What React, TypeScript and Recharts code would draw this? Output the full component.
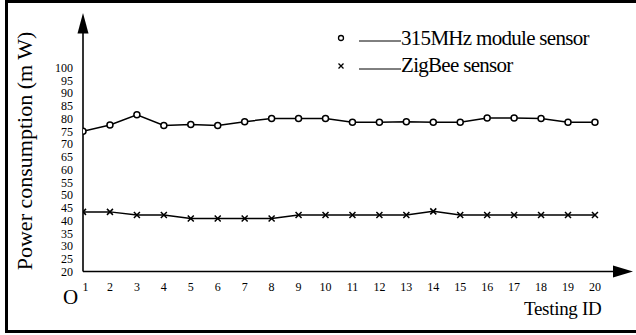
import { LineChart, Line, XAxis, YAxis } from 'recharts';

const testingIds = [1, 2, 3, 4, 5, 6, 7, 8, 9, 10, 11, 12, 13, 14, 15, 16, 17, 18, 19, 20];
const mhz315 = [75, 77.5, 81.5, 77.3, 77.7, 77.3, 78.8, 80, 80, 80, 78.6, 78.6, 78.8, 78.6, 78.6, 80.2, 80.2, 80, 78.6, 78.6];
const zigbee = [43.4, 43.4, 42.2, 42.2, 40.8, 40.8, 40.8, 40.8, 42.2, 42.2, 42.2, 42.2, 42.2, 43.6, 42.2, 42.2, 42.2, 42.2, 42.2, 42.2];
const yTicks = [20, 25, 30, 35, 40, 45, 50, 55, 60, 65, 70, 75, 80, 85, 90, 95, 100];
const seriesNames = ['315MHz module sensor', 'ZigBee sensor'];

const FONT = '"Liberation Serif", "Times New Roman", serif';

const data = testingIds.map((id, i) => ({ id, mhz: mhz315[i], zig: zigbee[i] }));

// small "x" marker for the ZigBee series
const CrossDot = (props: any) => {
  const { cx, cy, index } = props;
  if (cx == null || cy == null) return null;
  const s = 3;
  return (
    <path
      key={`x-${index}`}
      d={`M${cx - s},${cy - s}L${cx + s},${cy + s}M${cx - s},${cy + s}L${cx + s},${cy - s}`}
      stroke="#000"
      strokeWidth={1.5}
      fill="none"
    />
  );
};

// x tick: the "1" sits a bit to the right of the origin in the original
const XTick = (props: any) => {
  const { x, y, payload } = props;
  const shift = payload.value === 1 ? 2.5 : 0;
  return (
    <text x={x + shift} y={y} dy="0.71em" textAnchor="middle" fontSize={12} fontFamily={FONT} fill="#000">
      {payload.value}
    </text>
  );
};

const YTick = (props: any) => {
  const { x, y, payload } = props;
  return (
    <text x={x} y={y} dy="0.355em" textAnchor="end" fontSize={12} fontFamily={FONT} fill="#000">
      {payload.value}
    </text>
  );
};

// legend drawn by hand, sitting in the upper right like the original figure
const LegendBox = () => (
  <svg width={300} height={60} style={{ position: 'absolute', left: 330, top: 27 }}>
    {seriesNames.map((name, i) => {
      const ly = i === 0 ? 14 : 42;
      return (
        <g key={name}>
          {i === 0 ? (
            <circle cx={11} cy={11} r={2.5} fill="#fff" stroke="#000" strokeWidth={1.3} />
          ) : (
            <path d="M8.5,36.5L13.5,41.5M8.5,41.5L13.5,36.5" stroke="#000" strokeWidth={1.3} />
          )}
          <line x1={29} x2={71} y1={ly} y2={ly} stroke="#000" strokeWidth={1} />
          <text x={71} y={i === 0 ? 18 : 45} fontSize={21} fontFamily={FONT} fill="#000" letterSpacing={-0.7}>
            {name}
          </text>
        </g>
      );
    })}
  </svg>
);

const App = () => {
  return (
    <div
      style={{
        position: 'absolute',
        left: 0,
        top: 0,
        width: 636,
        height: 335,
        overflow: 'hidden',
        background: '#fff',
        fontFamily: FONT,
      }}
    >
      {/* outer frame, right edge is cut off like in the scan */}
      <div
        style={{
          position: 'absolute',
          left: 5,
          top: 0,
          width: 650,
          height: 333,
          border: '3px solid #000',
          boxSizing: 'border-box',
        }}
      />
      <div style={{ position: 'absolute', left: 0, top: 0 }}>
        <LineChart
          width={636}
          height={335}
          data={data}
          margin={{ top: 33, right: 23, left: 0, bottom: 33.5 }}
          style={{ fontFamily: FONT }}
        >
          <XAxis
            dataKey="id"
            type="number"
            domain={[1, 20.67]}
            allowDataOverflow
            ticks={testingIds}
            interval={0}
            tickLine={false}
            tickSize={0}
            tickMargin={11}
            height={30}
            axisLine={{ stroke: '#000', strokeWidth: 1.6 }}
            tick={<XTick />}
          />
          <YAxis
            type="number"
            domain={[20, 113.6]}
            allowDataOverflow
            ticks={yTicks}
            interval={0}
            width={83}
            tickLine={false}
            tickSize={0}
            tickMargin={10}
            axisLine={{ stroke: '#000', strokeWidth: 1.6 }}
            tick={<YTick />}
          />
          <Line
            type="linear"
            dataKey="mhz"
            name={seriesNames[0]}
            stroke="#000"
            strokeWidth={1.5}
            dot={{ r: 3, fill: '#fff', stroke: '#000', strokeWidth: 1.5 }}
            activeDot={false}
            isAnimationActive={false}
          />
          <Line
            type="linear"
            dataKey="zig"
            name={seriesNames[1]}
            stroke="#000"
            strokeWidth={1.5}
            dot={<CrossDot />}
            activeDot={false}
            isAnimationActive={false}
          />
        </LineChart>
      </div>
      <LegendBox />
      {/* arrow heads on the axes, plus the loose labels */}
      <svg width={636} height={335} style={{ position: 'absolute', left: 0, top: 0, pointerEvents: 'none' }}>
        <polygon points="83,13 77.5,33.5 88.5,33.5" fill="#000" />
        <polygon points="633,271.5 613,265.5 613,277.5" fill="#000" />
        <text x={63} y={304} fontSize={21} fontFamily={FONT} fill="#000">
          O
        </text>
        <text x={524} y={315} fontSize={19} fontFamily={FONT} fill="#000" letterSpacing={-0.3}>
          Testing ID
        </text>
        <text
          x={0}
          y={0}
          fontSize={22}
          fontFamily={FONT}
          fill="#000"
          textAnchor="middle"
          transform="translate(32,151) rotate(-90)"
        >
          Power consumption (m W)
        </text>
      </svg>
    </div>
  );
};

export default App;
